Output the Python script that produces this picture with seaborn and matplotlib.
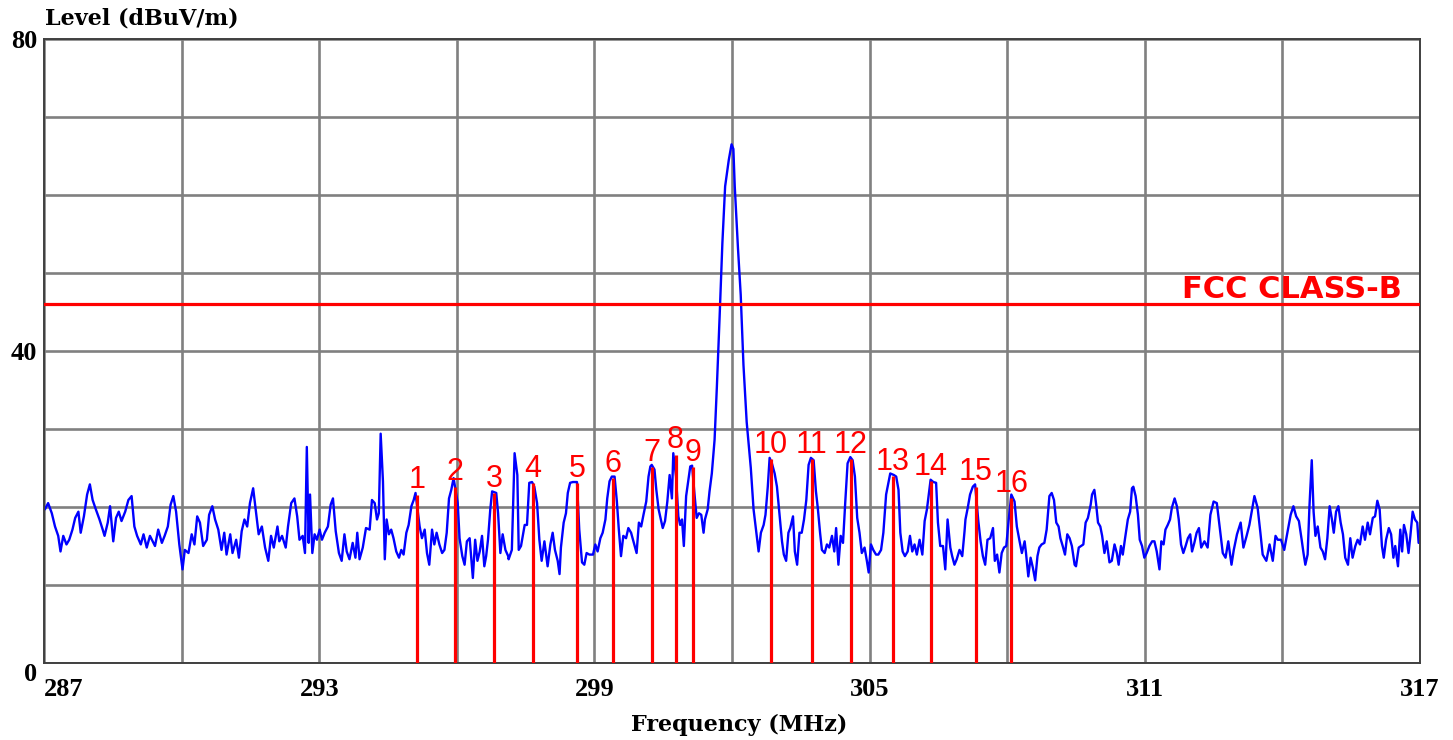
import matplotlib
matplotlib.use("Agg")
import matplotlib.pyplot as plt
import numpy as np
import pandas as pd
import seaborn as sns

# ---------------- data ----------------
trace_287_292 = [(287.02,19.7),(287.09,20.5),(287.17,19.2),(287.24,17.5),(287.31,16.3),(287.36,14.3),(287.42,16.3),(287.49,15.2),(287.55,15.8),(287.62,17.1),(287.68,18.6),(287.75,19.4),(287.80,16.7),(287.87,18.8),(287.94,21.6),(288.00,22.9),(288.06,20.9),(288.13,19.7),(288.21,18.4),(288.28,17.1),(288.32,16.3),(288.39,18.0),(288.44,20.1),(288.51,15.6),(288.57,18.6),(288.63,19.4),(288.69,18.2),(288.77,19.4),(288.84,20.9),(288.91,21.4),(288.97,17.5),(289.03,16.3),(289.11,15.2),(289.17,16.5),(289.24,14.8),(289.31,16.3),(289.42,15.0),(289.49,17.1),(289.57,15.4),(289.63,16.3),(289.70,17.5),(289.76,20.3),(289.82,21.4),(289.88,19.4),(289.95,15.2),(290.02,12.0),(290.07,14.5),(290.15,14.1),(290.22,16.5),(290.28,15.2),(290.34,18.8),(290.40,18.0),(290.47,15.0),(290.55,15.8),(290.60,19.0),(290.67,20.1),(290.73,18.4),(290.80,17.1),(290.87,14.5),(290.93,16.7),(290.98,13.9),(291.06,16.5),(291.11,14.1),(291.19,15.8),(291.25,13.5),(291.31,16.9),(291.37,18.4),(291.43,17.5),(291.49,20.5),(291.56,22.4),(291.62,19.4),(291.68,16.5),(291.75,17.5),(291.82,14.8),(291.89,13.1),(291.95,16.3),(292.01,14.8),(292.09,17.5)]

trace_292_297 = [(292.13,15.6),(292.19,16.3),(292.27,14.8),(292.32,17.5),(292.39,20.5),(292.46,21.1),(292.52,18.8),(292.57,15.8),(292.64,16.3),(292.69,14.1),(292.73,27.7),(292.77,15.4),(292.80,21.6),(292.85,14.1),(292.90,16.5),(292.95,15.8),(293.01,17.1),(293.06,15.8),(293.12,16.7),(293.19,17.5),(293.25,20.3),(293.30,21.1),(293.36,16.9),(293.43,14.1),(293.49,13.1),(293.55,16.5),(293.60,14.3),(293.66,13.3),(293.73,15.4),(293.79,13.5),(293.83,16.7),(293.88,13.3),(293.95,14.8),(294.02,17.3),(294.10,17.1),(294.15,20.9),(294.21,20.5),(294.26,18.4),(294.30,19.2),(294.34,29.4),(294.39,23.3),(294.43,13.3),(294.47,18.4),(294.52,16.5),(294.57,17.1),(294.62,16.0),(294.68,14.3),(294.74,13.5),(294.79,14.5),(294.84,13.9),(294.90,16.7),(294.95,17.7),(295.01,20.1),(295.06,20.9),(295.10,21.8),(295.19,17.5),(295.24,16.0),(295.30,17.1),(295.35,14.1),(295.40,12.6),(295.46,17.1),(295.51,15.2),(295.56,16.7),(295.62,15.2),(295.68,14.1),(295.73,14.5),(295.78,16.7),(295.83,21.1),(295.88,22.2),(295.93,23.7),(296.02,20.5),(296.06,16.0),(296.12,13.7),(296.17,12.6),(296.22,15.6),(296.28,16.0),(296.35,10.9),(296.40,15.8),(296.45,13.1),(296.50,14.3),(296.55,16.3),(296.60,12.4),(296.64,13.7),(296.68,15.8),(296.73,19.7),(296.77,22.0),(296.86,21.8),(296.90,19.2),(296.95,14.1),(297.00,16.5),(297.06,14.5),(297.12,13.7)]

trace_297_302 = [(297.13,13.3),(297.20,14.5),(297.26,26.9),(297.32,24.1),(297.35,14.5),(297.40,15.0),(297.48,17.7),(297.53,17.7),(297.58,23.1),(297.64,23.2),(297.69,22.6),(297.75,20.5),(297.80,15.8),(297.85,13.1),(297.91,15.6),(297.98,12.4),(298.04,15.2),(298.09,16.7),(298.14,14.5),(298.20,13.1),(298.24,11.4),(298.27,14.8),(298.33,18.0),(298.38,19.2),(298.42,21.8),(298.47,23.1),(298.53,23.2),(298.62,23.2),(298.67,17.1),(298.73,12.9),(298.78,12.6),(298.83,14.1),(298.89,13.9),(298.97,13.9),(299.02,15.2),(299.07,14.3),(299.13,16.0),(299.18,16.7),(299.24,18.4),(299.28,21.1),(299.33,23.3),(299.38,23.9),(299.44,23.9),(299.49,20.7),(299.53,17.3),(299.58,13.7),(299.63,16.3),(299.69,16.0),(299.74,17.3),(299.80,16.7),(299.87,15.2),(299.92,14.1),(299.97,18.0),(300.02,17.5),(300.07,19.0),(300.13,20.7),(300.18,23.9),(300.22,25.2),(300.25,25.4),(300.31,24.8),(300.35,22.2),(300.40,19.7),(300.45,18.4),(300.49,17.3),(300.54,18.2),(300.59,20.7),(300.64,24.1),(300.69,21.1),(300.72,26.9),(300.78,23.9),(300.83,18.8),(300.87,17.7),(300.91,18.4),(300.95,15.0),(301.00,21.4),(301.05,23.5),(301.09,25.2),(301.13,25.3),(301.18,21.8),(301.23,18.6),(301.28,19.2),(301.33,19.0),(301.38,16.7),(301.41,18.4),(301.47,19.7),(301.51,22.0),(301.56,24.3),(301.62,28.6)]

trace_peak = [(301.67,35.4),(301.73,44.4),(301.79,53.8),(301.85,61.1),(301.93,64.5),(301.99,66.5),(302.03,65.9),(302.06,61.1),(302.13,53.2),(302.19,47.2),(302.25,38.2),(302.32,30.9)]

trace_302_307 = [(302.41,25.0),(302.47,19.7),(302.53,16.7),(302.58,14.3),(302.63,16.7),(302.69,17.7),(302.73,19.0),(302.78,22.6),(302.82,26.3),(302.87,25.6),(302.93,24.3),(302.98,22.6),(303.03,19.4),(303.09,15.6),(303.13,13.9),(303.18,13.1),(303.23,16.7),(303.27,17.3),(303.33,18.8),(303.37,14.3),(303.42,12.6),(303.47,16.7),(303.52,16.7),(303.57,18.4),(303.62,20.9),(303.67,25.4),(303.72,26.3),(303.78,26.0),(303.83,22.0),(303.87,19.9),(303.92,16.7),(303.96,14.5),(304.02,14.1),(304.07,15.2),(304.12,14.8),(304.18,16.3),(304.23,14.3),(304.27,17.3),(304.32,12.6),(304.37,16.3),(304.42,15.4),(304.47,20.7),(304.52,25.6),(304.58,26.4),(304.63,26.0),(304.68,23.9),(304.73,18.6),(304.78,16.7),(304.83,14.1),(304.89,14.8),(304.94,13.1),(304.98,11.6),(305.03,15.2),(305.08,14.5),(305.14,13.9),(305.19,13.9),(305.25,14.5),(305.30,16.7),(305.36,21.6),(305.41,23.1),(305.45,24.3),(305.53,24.1),(305.58,23.9),(305.63,22.2),(305.67,16.7),(305.72,14.3),(305.77,13.7),(305.83,14.3),(305.88,16.3),(305.93,14.3),(305.98,15.2),(306.03,13.9),(306.09,15.8),(306.15,13.9),(306.20,18.2),(306.25,19.7),(306.28,21.1),(306.33,23.5),(306.39,23.2),(306.45,23.1),(306.49,18.0),(306.54,15.0),(306.60,15.0),(306.65,12.0),(306.70,18.4),(306.76,14.8),(306.80,13.7),(306.85,12.6),(306.90,13.3),(306.96,14.5),(307.02,13.7),(307.07,16.9)]

trace_307_312 = [(307.09,18.4),(307.14,19.9),(307.19,21.6),(307.25,22.6),(307.30,22.9),(307.37,18.2),(307.42,15.6),(307.47,13.7),(307.52,12.6),(307.57,15.8),(307.63,16.0),(307.69,17.3),(307.73,13.1),(307.78,13.9),(307.83,11.6),(307.88,14.1),(307.93,14.8),(307.98,15.0),(308.03,18.2),(308.09,21.6),(308.16,20.7),(308.21,17.5),(308.27,15.6),(308.32,14.1),(308.38,15.6),(308.41,14.1),(308.46,11.1),(308.51,13.5),(308.56,12.2),(308.61,10.6),(308.66,13.7),(308.70,14.8),(308.75,15.2),(308.81,15.4),(308.86,17.1),(308.92,21.4),(308.97,21.8),(309.02,20.9),(309.07,18.0),(309.12,17.5),(309.16,16.0),(309.21,15.0),(309.26,13.9),(309.31,16.5),(309.36,16.0),(309.41,15.0),(309.47,12.6),(309.50,12.4),(309.56,14.8),(309.61,15.0),(309.66,15.2),(309.71,18.0),(309.76,18.6),(309.82,20.3),(309.85,21.6),(309.90,22.2),(309.94,20.3),(309.98,18.0),(310.03,17.5),(310.07,16.3),(310.12,14.1),(310.17,15.6),(310.23,12.9),(310.28,13.1),(310.34,15.2),(310.39,14.1),(310.43,12.6),(310.48,15.0),(310.52,13.9),(310.57,16.0),(310.63,18.4),(310.68,19.4),(310.72,22.4),(310.75,22.6),(310.80,21.4),(310.85,19.0),(310.89,15.8),(310.94,15.0),(310.99,13.5),(311.04,14.1),(311.10,15.0),(311.16,15.6),(311.21,15.6),(311.26,14.3),(311.32,12.0),(311.36,15.6),(311.41,15.2),(311.45,17.1),(311.50,17.7),(311.55,18.4),(311.59,19.9),(311.65,21.1),(311.70,20.1),(311.74,18.4),(311.79,15.2),(311.84,14.1),(311.89,15.0),(311.94,16.0),(311.99,16.5),(312.03,14.3),(312.08,15.4),(312.13,16.7),(312.18,17.3)]

trace_312_317 = [(312.23,14.8),(312.30,15.6),(312.37,14.8),(312.43,19.0),(312.50,20.7),(312.57,20.5),(312.63,17.5),(312.70,14.1),(312.76,13.5),(312.82,15.6),(312.89,12.6),(312.94,14.5),(313.01,16.5),(313.09,18.0),(313.15,14.8),(313.22,16.3),(313.28,17.7),(313.33,19.4),(313.39,21.4),(313.46,19.9),(313.52,16.7),(313.57,13.9),(313.65,13.1),(313.72,15.2),(313.79,13.1),(313.85,16.3),(313.90,15.8),(313.97,15.8),(314.04,14.5),(314.12,17.1),(314.18,19.0),(314.24,20.1),(314.30,18.8),(314.36,18.2),(314.42,15.8),(314.46,14.1),(314.50,12.6),(314.55,13.9),(314.59,20.1),(314.64,26.0),(314.68,19.4),(314.72,16.3),(314.77,17.5),(314.83,14.8),(314.88,14.3),(314.93,13.3),(314.98,16.0),(315.03,20.1),(315.08,18.4),(315.12,16.7),(315.17,19.4),(315.22,20.1),(315.27,18.0),(315.32,16.5),(315.37,13.5),(315.43,12.6),(315.48,16.0),(315.53,13.5),(315.59,15.0),(315.64,15.8),(315.69,15.2),(315.75,17.5),(315.80,15.8),(315.86,18.0),(315.91,16.5),(315.97,18.6),(316.02,18.8),(316.07,20.8),(316.12,19.7),(316.17,15.0),(316.21,13.5),(316.26,15.8),(316.32,17.3),(316.37,16.5),(316.42,13.5),(316.46,15.0),(316.52,12.4),(316.57,17.1),(316.61,14.3),(316.65,17.7),(316.70,16.5),(316.75,14.1),(316.79,16.3),(316.84,19.4),(316.89,18.4),(316.94,18.0),(316.97,15.4)]

marker_labels = ["1", "2", "3", "4", "5", "6", "7", "8", "9", "10", "11", "12", "13", "14", "15", "16"]
marker_freq = [295.13, 295.96, 296.81, 297.66, 298.62, 299.40, 300.25, 300.77, 301.15,
               302.85, 303.74, 304.59, 305.51, 306.33, 307.32, 308.09]
marker_level = [21.6, 22.6, 21.8, 23.1, 23.1, 23.7, 25.1, 26.7, 25.1,
                26.1, 26.1, 26.1, 24.0, 23.3, 22.6, 21.1]

limit_label = "FCC CLASS-B"
limit_level = 46.0

x_ticks = [287, 290, 293, 296, 299, 302, 305, 308, 311, 314, 317]
x_tick_labels = ["287", "", "293", "", "299", "", "305", "", "311", "", "317"]
y_ticks = [0, 10, 20, 30, 40, 50, 60, 70, 80]
y_tick_labels = ["0", "", "", "", "40", "", "", "", "80"]

y_title = "Level (dBuV/m)"
x_title = "Frequency (MHz)"

# ---------------- plotting ----------------
sns.set_theme(style="white")
plt.rcParams["font.family"] = ["Liberation Serif", "DejaVu Serif"]

W, H = 1453, 740
fig = plt.figure(figsize=(W / 100, H / 100), dpi=100)
fig.patch.set_facecolor("white")
ax = fig.add_axes([44 / W, 1 - 663 / H, (1420 - 44) / W, (663 - 39) / H])
ax.set_facecolor("white")

trace = pd.DataFrame(
    trace_287_292 + trace_292_297 + trace_297_302 + trace_peak
    + trace_302_307 + trace_307_312 + trace_312_317,
    columns=["freq", "level"],
)
sns.lineplot(data=trace, x="freq", y="level", color="#0000FF", lw=1.7,
             ax=ax, sort=False, estimator=None, zorder=2)

red = "#FF0000"
ax.axhline(limit_level, color=red, lw=2.3, zorder=3)
ax.vlines(marker_freq, 0, marker_level, color=red, lw=2.3, zorder=4)

for f, lv, lab in zip(marker_freq, marker_level, marker_labels):
    ax.annotate(lab, xy=(f, lv), xytext=(0, 4.5), textcoords="offset points",
                ha="center", va="baseline", color=red, fontsize=22,
                family=["Liberation Sans", "DejaVu Sans"], zorder=5)

ax.annotate(limit_label, xy=(1, limit_level), xycoords=ax.get_yaxis_transform(),
            xytext=(-13, 4.5), textcoords="offset points", ha="right", va="baseline",
            color=red, fontsize=22, fontweight="bold",
            family=["DejaVu Sans"], zorder=5)

ax.set_xlim(287, 317)
ax.set_ylim(0, 80)
ax.set_xticks(x_ticks)
ax.set_xticklabels(x_tick_labels)
ax.set_yticks(y_ticks)
ax.set_yticklabels(y_tick_labels)
ax.set_xlabel("")
ax.set_ylabel("")

ax.grid(True, color="#808080", lw=1.9)
ax.set_axisbelow(True)
ax.tick_params(axis="both", length=0, labelsize=19, colors="black")
ax.tick_params(axis="x", pad=11)
ax.tick_params(axis="y", pad=5)
for lab in ax.get_xticklabels() + ax.get_yticklabels():
    lab.set_fontweight("bold")
xl = ax.get_xticklabels()
xl[0].set_ha("left")
yl = ax.get_yticklabels()
yl[0].set_va("top")

for s in ax.spines.values():
    s.set_visible(True)
    s.set_color("#404040")
    s.set_linewidth(1.4)

fig.text(45 / W, 1 - 18 / H, y_title, ha="left", va="center",
         fontsize=16, fontweight="bold", color="black", family=["DejaVu Serif"])
fig.text(739 / W, 1 - 725 / H, x_title, ha="center", va="center",
         fontsize=16, fontweight="bold", color="black", family=["DejaVu Serif"])

fig.savefig("out.png", dpi=100, facecolor="white")
